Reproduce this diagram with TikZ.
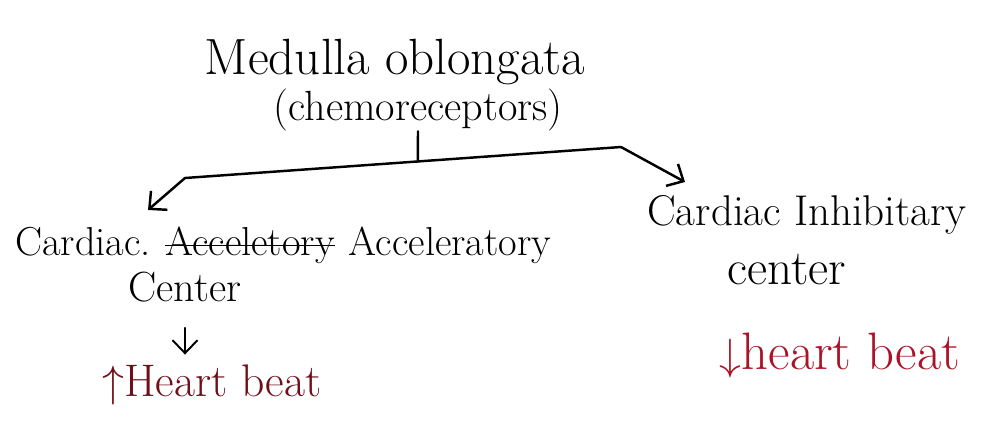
\documentclass[tikz,border=0pt]{standalone}
\usepackage{tikz}
\usetikzlibrary{arrows.meta}
\usetikzlibrary{calc}
\usetikzlibrary{positioning}
\usepackage{xcolor}

\definecolor{inkred}{RGB}{170,20,40}
\definecolor{inkmix}{RGB}{110,15,25}

\begin{document}
\begin{tikzpicture}[x=1cm, y=1cm]
        % ================= styles =================
        \tikzset{
            % handwritten-looking text, no frame
            hand/.style={inner sep=0pt, text=black},
            % red note under the centres
            hand_red/.style={hand, text=inkred},
            % black connector
            ink_edge/.style={line width=1.4pt, black, line join=round, line cap=round},
            % open barb tip
            barb/.style={-{Straight Barb[length=2.6mm, width=5mm]}}
        }
        \useasboundingbox (0,0) rectangle (20.04,-8.42);

        % ================= nodes =================
        % top: medulla
        \node[hand, font=\fontsize{29}{32}\selectfont] (medulla) at (7.9,-1.24) {Medulla oblongata};
        \node[hand, font=\fontsize{24}{28}\selectfont] (chemo) at (8.36,-2.2) {(chemoreceptors)};

        % left branch (one word crossed out)
        \node[hand, font=\fontsize{23}{27}\selectfont, anchor=base west] (acc1) at (0.3,-5.1) {Cardiac.};
        \node[hand, font=\fontsize{23}{27}\selectfont, base right=0.27cm of acc1] (accx) {Acceletory};
        \node[hand, font=\fontsize{23}{27}\selectfont, base right=0.27cm of accx] (acc2) {Acceleratory};
        \node[hand, font=\fontsize{24}{28}\selectfont] (acccen) at (3.7,-5.75) {Center};
        \node[hand, text=inkmix, font=\fontsize{26}{30}\selectfont] (accbeat) at (4.24,-7.7) {$\uparrow$Heart beat};

        % right branch
        \node[hand, font=\fontsize{24.5}{28}\selectfont] (inh) at (16.14,-4.3) {Cardiac Inhibitary};
        \node[hand, font=\fontsize{28}{32}\selectfont] (inhcen) at (15.74,-5.4) {center};
        \node[hand_red, font=\fontsize{30}{34}\selectfont] (inhbeat) at (16.8,-7.1) {$\downarrow$heart beat};

        % ================= connectors =================
        \coordinate (lbend) at (3.7,-3.56);
        \coordinate (ltip) at (2.96,-4.2);
        \coordinate (rbend) at (12.42,-2.94);
        \coordinate (rtip) at (13.7,-3.64);
        \coordinate (split) at ($(lbend)!0.534!(rbend)$);

        \draw[ink_edge] (chemo.south) -- (split);
        \draw[ink_edge, {Straight Barb[length=2.6mm, width=5mm]}-{Straight Barb[length=2.6mm, width=5mm]}]
            (ltip) -- (lbend) -- (rbend) -- (rtip);

        % strike through the crossed-out word
        \draw[line width=1.1pt] ([yshift=0.19cm]accx.base west) -- ([yshift=0.19cm]accx.base east);

        % small arrow under the left centre
        \draw[ink_edge, barb, line width=1.1pt, shorten <=0.5cm, shorten >=0.2cm]
            (acccen.south) -- (acccen.south |- accbeat.north);

    \end{tikzpicture}
\end{document}
